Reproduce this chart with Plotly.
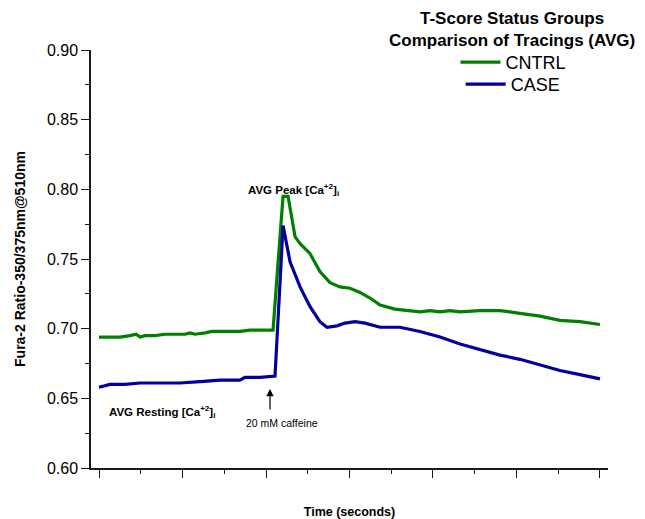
import plotly.graph_objects as go

# ---- data ----
cntrl_time = [0, 6.6, 12.6, 18.6, 22.2, 24.6, 27.5, 33.5, 39.5, 45.5, 51.5, 54.5, 57.5,
              63.5, 67.7, 72.5, 78.4, 84.4, 90.4, 96.4, 101.2, 104.2, 110.2, 113.2, 117.4,
              120.4, 126.3, 132.3, 138.3, 144.3, 150.3, 156.3, 162.3, 168.3, 177.2, 186.2,
              192.2, 198.2, 204.2, 210.2, 216.2, 228.1, 240.1, 252.1, 264.1, 276.0, 288.0, 300.0]
cntrl_ratio = [0.694, 0.694, 0.694, 0.695, 0.696, 0.694, 0.695, 0.695, 0.696, 0.696, 0.696,
               0.697, 0.696, 0.697, 0.698, 0.698, 0.698, 0.698, 0.699, 0.699, 0.699, 0.699,
               0.795, 0.795, 0.766, 0.761, 0.754, 0.741, 0.733, 0.730, 0.729, 0.726, 0.722,
               0.717, 0.714, 0.713, 0.712, 0.713, 0.712, 0.713, 0.712, 0.713, 0.713, 0.711,
               0.709, 0.706, 0.705, 0.703]

case_time = [0, 6.6, 15.6, 24.6, 36.5, 48.5, 60.5, 72.5, 84.4, 87.4, 96.4, 105.4, 110.2,
             114.4, 120.4, 126.3, 132.3, 136.5, 142.5, 147.3, 153.3, 159.3, 168.3, 180.2,
             192.2, 204.2, 216.2, 228.1, 240.1, 252.1, 264.1, 276.0, 288.0, 300.0]
case_ratio = [0.658, 0.660, 0.660, 0.661, 0.661, 0.661, 0.662, 0.663, 0.663, 0.665, 0.665,
              0.666, 0.774, 0.748, 0.730, 0.716, 0.705, 0.701, 0.702, 0.704, 0.705, 0.704,
              0.701, 0.701, 0.698, 0.694, 0.689, 0.685, 0.681, 0.678, 0.674, 0.670, 0.667,
              0.664]

series_names = ["CNTRL", "CASE"]
series_colors = ["#008000", "#0000A0"]

y_ticks = [0.60, 0.65, 0.70, 0.75, 0.80, 0.85, 0.90]
y_tick_text = ["0.60", "0.65", "0.70", "0.75", "0.80", "0.85", "0.90"]

caffeine_time = 102.4

FONT = "Liberation Sans, Arial, sans-serif"

fig = go.Figure()
fig.add_trace(go.Scatter(x=cntrl_time, y=cntrl_ratio, mode="lines", name=series_names[0],
                         line=dict(color=series_colors[0], width=3.2), legend="legend"))
fig.add_trace(go.Scatter(x=case_time, y=case_ratio, mode="lines", name=series_names[1],
                         line=dict(color=series_colors[1], width=3.2), legend="legend2"))

axis_col = "#1a1a1a"
fig.update_xaxes(range=[-4.8, 304.8], showgrid=False, zeroline=False, automargin=False,
                 showline=True, linecolor=axis_col, linewidth=1.5,
                 ticks="outside", ticklen=8, tickwidth=1.3, tickcolor=axis_col,
                 tick0=0, dtick=50, showticklabels=False,
                 minor=dict(ticks="outside", ticklen=4, tickwidth=1.3, tickcolor=axis_col,
                            tick0=0, dtick=25),
                 title=dict(text="<b>Time (seconds)</b>", standoff=30,
                            font=dict(family=FONT, size=12.5, color="black")))
fig.update_yaxes(range=[0.6, 0.9], showgrid=False, zeroline=False, automargin=False,
                 showline=True, linecolor=axis_col, linewidth=1.5,
                 ticks="outside", ticklen=8, tickwidth=1.3, tickcolor=axis_col,
                 tickvals=y_ticks, ticktext=y_tick_text,
                 tickfont=dict(family=FONT, size=16, color="black"),
                 minor=dict(ticks="outside", ticklen=4, tickwidth=1.3, tickcolor=axis_col,
                            tick0=0.6, dtick=0.025),
                 title=dict(text="<b>Fura-2 Ratio-350/375nm@510nm</b>", standoff=18,
                            font=dict(family=FONT, size=14, color="black")))

fig.add_annotation(xref="paper", yref="paper", x=0.815, y=1.05, xanchor="center",
                   yanchor="middle", showarrow=False, align="center",
                   text="<b>T-Score Status Groups</b><br><b>Comparison of Tracings (AVG)</b>",
                   font=dict(family=FONT, size=17, color="black"))

fig.add_annotation(x=88, y=0.7995, xref="x", yref="y", xanchor="left", yanchor="middle",
                   showarrow=False, text="<b>AVG Peak [Ca<sup>+2</sup>]<sub>i</sub></b>",
                   font=dict(family=FONT, size=11.5, color="black"))
fig.add_annotation(x=4.8, y=0.6405, xref="x", yref="y", xanchor="left", yanchor="middle",
                   showarrow=False, text="<b>AVG Resting [Ca<sup>+2</sup>]<sub>i</sub></b>",
                   font=dict(family=FONT, size=11.5, color="black"))
fig.add_annotation(x=86.8, y=0.6325, xref="x", yref="y", xanchor="left", yanchor="middle",
                   showarrow=False, text="20 mM caffeine",
                   font=dict(family=FONT, size=10.5, color="black"))
fig.add_annotation(x=caffeine_time, y=0.6567, xref="x", yref="y", text="",
                   showarrow=True, ax=0, ay=22, arrowhead=2, arrowsize=1.2,
                   arrowwidth=1.2, arrowcolor="black")

legend_style = dict(xanchor="left", yanchor="top", bgcolor="rgba(0,0,0,0)",
                    borderwidth=0, font=dict(family=FONT, size=18, color="black"),
                    itemwidth=40)

# page body has an 8px margin: size the figure so it still ends at 645x519
fig.update_layout(
    width=637, height=511,
    margin=dict(l=83, r=37, t=42, b=51, autoexpand=False),
    plot_bgcolor="white", paper_bgcolor="white",
    font=dict(family=FONT, color="black"),
    showlegend=True,
    legend=dict(x=0.705, y=1.0144, **legend_style),
    legend2=dict(x=0.715, y=0.9617, **legend_style),
)

fig.write_html("out.html")
